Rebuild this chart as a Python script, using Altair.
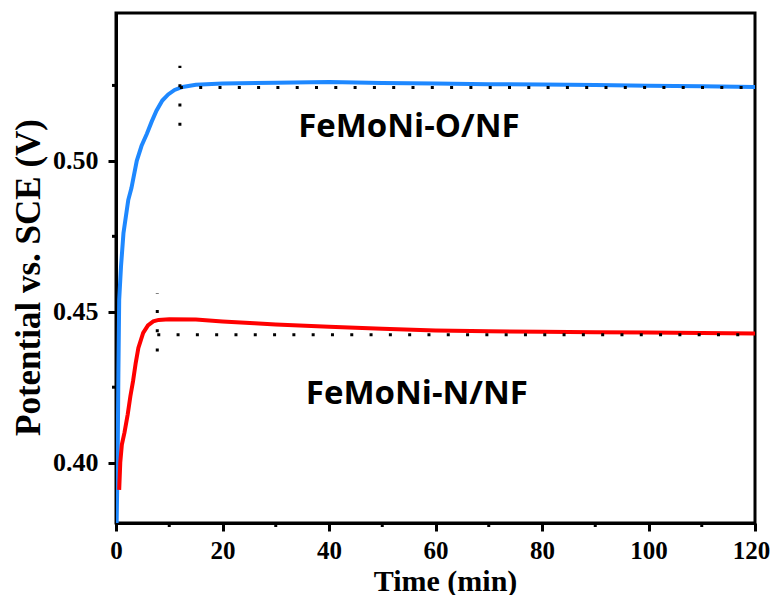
import altair as alt
import pandas as pd

# --- data ---
o_time = [0.1, 0.3, 0.45, 0.6, 0.94, 1.4, 2.3, 2.9, 3.9, 4.8, 5.8, 6.7, 7.6, 8.7, 9.8, 11.0, 12.5,
          15, 20, 30, 40, 50, 60, 70, 80, 90, 100, 110, 120]
o_pot = [0.378, 0.400, 0.430, 0.454, 0.465, 0.476, 0.487, 0.491, 0.500, 0.505, 0.509, 0.513, 0.5166,
         0.520, 0.522, 0.5235, 0.5245, 0.5252, 0.5256, 0.5259, 0.5261, 0.5258, 0.5256, 0.5254,
         0.5253, 0.5251, 0.5249, 0.5247, 0.5245]

n_time = [0.6, 0.8, 1.1, 1.6, 2.2, 2.7, 3.2, 3.7, 4.2, 5.1, 6.0, 7.0, 8.0, 10, 15, 20, 26, 30, 40,
          50, 60, 70, 80, 90, 100, 110, 120]
n_pot = [0.391, 0.400, 0.406, 0.410, 0.416, 0.422, 0.427, 0.433, 0.438, 0.443, 0.4455, 0.4468,
         0.4473, 0.4475, 0.4474, 0.4468, 0.4462, 0.4458, 0.4450, 0.4444, 0.4438, 0.4435, 0.4434,
         0.4432, 0.4431, 0.4430, 0.4428]

series_names = ["FeMoNi-O/NF", "FeMoNi-N/NF"]
series_colors = ["#1E88FF", "#FF0000"]

# dotted guide segments (start time, end time, start V, end V)
guide_t1 = [12.0, 12.0, 7.75, 7.75]
guide_t2 = [12.0, 120.0, 7.75, 120.0]
guide_v1 = [0.5116, 0.5243, 0.4368, 0.4424]
guide_v2 = [0.5315, 0.5243, 0.4561, 0.4424]

label_t = [55.0, 56.5]
label_v = [0.5079, 0.4195]

x_major = [0, 20, 40, 60, 80, 100, 120]
x_minor = [10, 30, 50, 70, 90, 110]
y_major = [0.40, 0.45, 0.50]
y_minor = [0.425, 0.475, 0.525]

df = pd.concat([
    pd.DataFrame({"t": o_time, "v": o_pot, "s": series_names[0]}),
    pd.DataFrame({"t": n_time, "v": n_pot, "s": series_names[1]}),
])
guides = pd.DataFrame({"t1": guide_t1, "t2": guide_t2, "v1": guide_v1, "v2": guide_v2})
labels = pd.DataFrame({"t": label_t, "v": label_v, "txt": series_names})
xminor_df = pd.DataFrame({"t": x_minor})
yminor_df = pd.DataFrame({"v": y_minor})

serif = "Liberation Serif"
W, H = 639, 510

x_scale = alt.Scale(domain=[0, 120], nice=False, zero=False)
y_scale = alt.Scale(domain=[0.38, 0.549], nice=False, zero=False)

x_axis = alt.Axis(
    title="Time (min)", values=x_major, format="d", tickSize=8,
    labelFont=serif, labelFontSize=25, labelFontWeight="bold", labelPadding=7,
    labelOffset=alt.condition("datum.value === 120", alt.value(-4), alt.value(0)),
    titleFont=serif, titleFontSize=30, titleFontWeight="bold",
    titleX=329, titleY=67, titleBaseline="alphabetic",
    grid=False, labelFlush=False,
)
y_axis = alt.Axis(
    title="Potential vs. SCE (V)", values=y_major, format=".2f", tickSize=8,
    labelFont=serif, labelFontSize=26, labelFontWeight="bold", labelPadding=10,
    titleFont=serif, titleFontSize=35, titleFontWeight="bold",
    titleX=-77, titleY=264, titleBaseline="alphabetic", titleAngle=270,
    grid=False, labelFlush=False,
)

lines = alt.Chart(df).mark_line(strokeWidth=4, clip=True).encode(
    x=alt.X("t:Q", scale=x_scale, axis=x_axis),
    y=alt.Y("v:Q", scale=y_scale, axis=y_axis),
    color=alt.Color("s:N", scale=alt.Scale(domain=series_names, range=series_colors), legend=None),
    order="t:Q",
)

rules = alt.Chart(guides).mark_rule(color="black", strokeWidth=3, strokeDash=[3, 16.3], strokeCap="butt").encode(
    x=alt.X("t1:Q", scale=x_scale), x2="t2:Q",
    y=alt.Y("v1:Q", scale=y_scale), y2="v2:Q",
)

xminor = alt.Chart(xminor_df).mark_rule(color="black", strokeWidth=3).encode(
    x=alt.X("t:Q", scale=x_scale), y=alt.value(H), y2=alt.value(H + 4),
)
yminor = alt.Chart(yminor_df).mark_rule(color="black", strokeWidth=3).encode(
    y=alt.Y("v:Q", scale=y_scale), x=alt.value(0), x2=alt.value(-4),
)

texts = alt.Chart(labels).mark_text(
    font="Open Sans", fontSize=33, fontWeight="bold", color="black",
    align="center", baseline="alphabetic",
).encode(
    x=alt.X("t:Q", scale=x_scale), y=alt.Y("v:Q", scale=y_scale), text="txt:N",
)

chart = alt.layer(lines, rules, xminor, yminor, texts).properties(
    width=W, height=H,
    autosize=alt.AutoSizeParams(type="none"),
    padding={"left": 108, "top": 5, "right": 17, "bottom": 72},
    background="white",
).configure_view(
    stroke="black", strokeWidth=3,
).configure_axis(
    domainColor="black", domainWidth=3, tickColor="black", tickWidth=3,
    labelColor="black", titleColor="black",
)

chart.save("out.html", embed_options={"renderer": "svg", "actions": False})
